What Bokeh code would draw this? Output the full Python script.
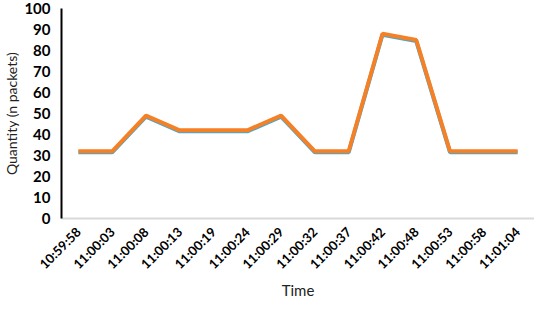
import math
from bokeh.plotting import figure
from bokeh.models import FactorRange, Range1d, SingleIntervalTicker
from bokeh.embed import file_html
from bokeh.resources import INLINE

times = ["10:59:58", "11:00:03", "11:00:08", "11:00:13", "11:00:19", "11:00:24", "11:00:29",
         "11:00:32", "11:00:37", "11:00:42", "11:00:48", "11:00:53", "11:00:58", "11:01:04"]
series_blue = [31.5, 31.5, 48.5, 41.5, 41.5, 41.5, 48.5, 31.5, 31.5, 87.5, 84.5, 31.5, 31.5, 31.5]
series_orange = [32, 32, 49, 42, 42, 42, 49, 32, 32, 88, 85, 32, 32, 32]

FONT = "Lato"

p = figure(width=534, height=301, output_backend="svg", toolbar_location=None,
           x_range=FactorRange(factors=times), y_range=Range1d(0, 100),
           min_border_left=48, min_border_right=0, min_border_top=8, min_border_bottom=72)
p.outline_line_color = None
p.xgrid.grid_line_color = None
p.ygrid.grid_line_color = None

p.line(times, series_blue, line_color="#3FA9D6", line_width=4)
p.line(times, series_orange, line_color="#F58025", line_width=4)

p.yaxis.ticker = SingleIntervalTicker(interval=10)
p.yaxis.axis_line_color = "black"
p.yaxis.axis_line_width = 2
p.yaxis.major_tick_line_color = None
p.yaxis.minor_tick_line_color = None
p.yaxis.major_label_text_font = FONT
p.yaxis.major_label_text_font_style = "bold"
p.yaxis.major_label_text_font_size = "15px"
p.yaxis.major_label_text_color = "black"
p.yaxis.major_label_standoff = 5
p.yaxis.axis_label = "Quantity (n packets)"
p.yaxis.axis_label_text_font = FONT
p.yaxis.axis_label_text_font_style = "normal"
p.yaxis.axis_label_text_font_size = "14px"
p.yaxis.axis_label_text_color = "#222222"
p.yaxis.axis_label_standoff = 1

p.xaxis.axis_line_color = "#D9D9D9"
p.xaxis.axis_line_width = 2
p.xaxis.major_tick_line_color = None
p.xaxis.minor_tick_line_color = None
p.xaxis.major_label_orientation = math.pi / 4
p.xaxis.major_label_text_font = FONT
p.xaxis.major_label_text_font_style = "bold"
p.xaxis.major_label_text_font_size = "13px"
p.xaxis.major_label_text_color = "black"
p.xaxis.major_label_standoff = 5
p.xaxis.axis_label = "Time"
p.xaxis.axis_label_text_font = FONT
p.xaxis.axis_label_text_font_style = "normal"
p.xaxis.axis_label_text_font_size = "15px"
p.xaxis.axis_label_text_color = "#222222"
p.xaxis.axis_label_standoff = 0

open("out.html", "w").write(file_html(p, INLINE))
